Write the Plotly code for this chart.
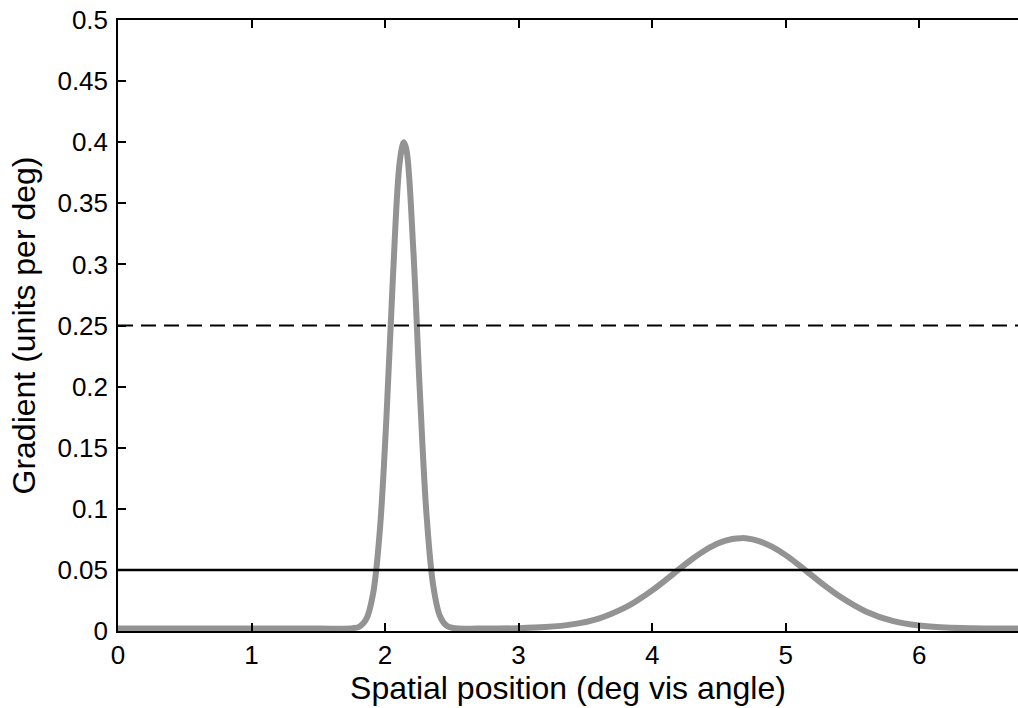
import plotly.graph_objects as go

# Gradient curve
pos_x = [0, 0.5, 1.0, 1.5, 1.76, 1.81, 1.86, 1.91, 1.96, 2.01, 2.06, 2.11, 2.14, 2.16,
         2.21, 2.26, 2.31, 2.36, 2.41, 2.46, 2.51, 2.7, 3.0, 3.2, 3.4, 3.6, 3.8, 3.9, 4.0,
         4.1, 4.2, 4.3, 4.4, 4.5, 4.6, 4.67, 4.7, 4.8, 4.9, 5.0, 5.1, 5.2, 5.3, 5.4, 5.6,
         5.8, 6.0, 6.2, 6.4, 6.74]
gradient = [0.002, 0.002, 0.002, 0.002, 0.0023, 0.0037, 0.0099, 0.0304, 0.0812, 0.174,
            0.292, 0.384, 0.400, 0.394, 0.315, 0.197, 0.096, 0.0376, 0.0125, 0.0044,
            0.0024, 0.002, 0.0023, 0.0032, 0.0054, 0.0102, 0.0193, 0.0257, 0.0332,
            0.0416, 0.0504, 0.0589, 0.0663, 0.072, 0.0753, 0.076, 0.0759, 0.0736,
            0.0688, 0.0621, 0.0539, 0.0451, 0.0365, 0.0286, 0.016, 0.0083,
            0.0045, 0.0029, 0.0023, 0.002]

# Threshold lines
line_x = [0, 6.74]
solid_level = [0.05, 0.05]
dashed_level = [0.25, 0.25]

x_ticks = [0, 1, 2, 3, 4, 5, 6]
x_ticktext = ["0", "1", "2", "3", "4", "5", "6"]
y_ticks = [0, 0.05, 0.1, 0.15, 0.2, 0.25, 0.3, 0.35, 0.4, 0.45, 0.5]
y_ticktext = ["0", "0.05", "0.1", "0.15", "0.2", "0.25", "0.3", "0.35", "0.4", "0.45", "0.5"]

FONT = "Liberation Sans, Arial, Helvetica, sans-serif"

fig = go.Figure()
fig.add_trace(go.Scatter(x=pos_x, y=gradient, mode="lines",
                         line=dict(color="#939393", width=6, shape="spline", smoothing=1.0),
                         showlegend=False))
fig.add_trace(go.Scatter(x=line_x, y=solid_level, mode="lines",
                         line=dict(color="black", width=2.5), showlegend=False))
fig.add_trace(go.Scatter(x=line_x, y=dashed_level, mode="lines",
                         line=dict(color="black", width=2, dash="15px,8px"), showlegend=False))

fig.update_layout(
    width=1018, height=708,
    margin=dict(l=118, r=0, t=20, b=77),
    paper_bgcolor="white", plot_bgcolor="white",
    font=dict(family=FONT, color="black", size=26),
)
fig.update_xaxes(
    range=[0, 6.74], tickvals=x_ticks, ticktext=x_ticktext,
    ticks="inside", ticklen=8, tickwidth=1.5, tickcolor="black",
    showline=True, linecolor="black", linewidth=1.5, mirror="ticks",
    showgrid=False, zeroline=False,
    tickfont=dict(size=26, family=FONT),
    title=dict(text="Spatial position (deg vis angle)", font=dict(size=32, family=FONT), standoff=6),
)
fig.update_yaxes(
    range=[0, 0.5], tickvals=y_ticks, ticktext=y_ticktext,
    ticks="inside", ticklen=8, tickwidth=1.5, tickcolor="black",
    showline=True, linecolor="black", linewidth=1.5, mirror=False,
    showgrid=False, zeroline=False,
    tickfont=dict(size=26, family=FONT), ticklabelstandoff=3,
    title=dict(text="Gradient (units per deg)", font=dict(size=32, family=FONT), standoff=12),
)

fig.write_html("out.html")
